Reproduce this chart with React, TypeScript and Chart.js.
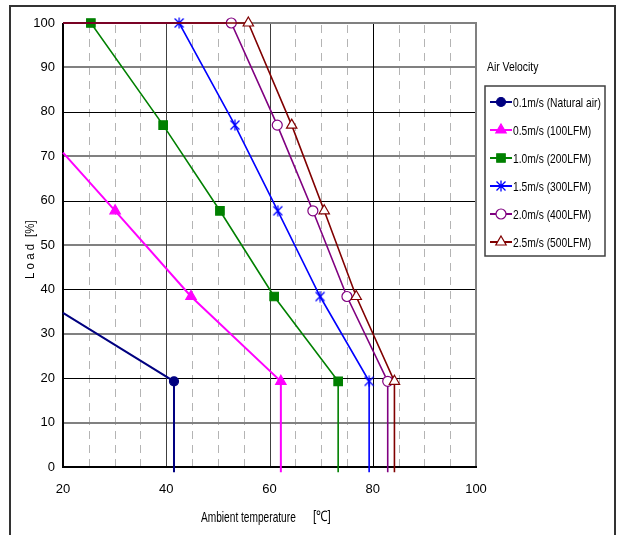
import React, { useEffect, useRef } from "react";
import { Chart, registerables } from "chart.js";
import { drawPoint } from "chart.js/helpers";

Chart.register(...registerables);

const FONT = "'Liberation Sans', Arial, sans-serif";

// Series values (x = ambient temperature °C, y = load %)
const loadY = [100, 100, 77, 57.7, 38.4, 19.3, -1.2];
const naturalX = [20, 41.5, 41.5];
const naturalY = [34.7, 19.3, -1.2];
const lfm100X = [20, 30.1, 44.8, 62.2, 62.2];
const lfm100Y = [70.8, 57.7, 38.4, 19.3, -1.2];
const lfm200X = [20, 25.4, 39.4, 50.4, 60.9, 73.3, 73.3];
const lfm300X = [20, 42.5, 53.3, 61.6, 69.8, 79.3, 79.3];
const lfm400X = [20, 52.6, 61.5, 68.4, 75.0, 82.9, 82.9];
const lfm500X = [20, 55.9, 64.3, 70.6, 76.8, 84.2, 84.2];

const seriesLabels = [
  "0.1m/s (Natural air)",
  "0.5m/s (100LFM)",
  "1.0m/s (200LFM)",
  "1.5m/s (300LFM)",
  "2.0m/s (400LFM)",
  "2.5m/s (500LFM)",
];
const seriesColors = ["#000080", "#FF00FF", "#008000", "#0000FF", "#800080", "#800000"];
const seriesFill = ["#000080", "#FF00FF", "#008000", "#0000FF", "#FFFFFF", "#FFFFFF"];
const seriesRadius = [4.5, 6, 6, 5, 5, 6];

const xTicks = [20, 40, 60, 80, 100];
const yTicks = [0, 10, 20, 30, 40, 50, 60, 70, 80, 90, 100];
const xMinor = [25, 30, 35, 45, 50, 55, 65, 70, 75, 85, 90, 95];

const legendTitle = "Air Velocity";
const xTitleMain = "Ambient temperature";
const xTitleUnit = "[℃]";
const yTitleMain = "L o a d";
const yTitleUnit = "[%]";

function zip(xs: number[], ys: number[]) {
  return xs.map((x, i) => ({ x, y: ys[i] }));
}

const seriesData = [
  zip(naturalX, naturalY),
  zip(lfm100X, lfm100Y),
  zip(lfm200X, loadY),
  zip(lfm300X, loadY),
  zip(lfm400X, loadY),
  zip(lfm500X, loadY),
];

function makeAsterisk(color: string) {
  const c = document.createElement("canvas");
  c.width = 12;
  c.height = 12;
  const g = c.getContext("2d")!;
  g.strokeStyle = color;
  g.lineWidth = 1.3;
  g.beginPath();
  g.moveTo(1.5, 1.5);
  g.lineTo(10.5, 10.5);
  g.moveTo(10.5, 1.5);
  g.lineTo(1.5, 10.5);
  g.moveTo(6, 0.5);
  g.lineTo(6, 11.5);
  g.stroke();
  return c;
}

function narrowText(ctx: any, text: string, x: number, y: number, size: number, sx: number, rot = 0) {
  ctx.save();
  ctx.translate(x, y);
  ctx.rotate(rot);
  ctx.scale(sx, 1);
  ctx.font = `${size}px ${FONT}`;
  ctx.fillStyle = "#000";
  ctx.textAlign = "left";
  ctx.textBaseline = "middle";
  ctx.fillText(text, 0, 0);
  ctx.restore();
}

export default function App() {
  const ref = useRef<HTMLCanvasElement>(null);
  useEffect(() => {
    document.body.style.margin = "0";
    const canvas = ref.current!;
    const asterisk = makeAsterisk("#0000FF");
    const seriesStyles: any[] = ["circle", "triangle", "rect", asterisk, "circle", "triangle"];

    const gridPlugin = {
      id: "customGrid",
      beforeDatasetsDraw(chart: any) {
        const { ctx, scales } = chart;
        const xs = scales.x;
        const ys = scales.y;
        const top = Math.round(ys.getPixelForValue(100));
        const bottom = Math.round(ys.getPixelForValue(0));
        const left = Math.round(xs.getPixelForValue(20));
        const right = Math.round(xs.getPixelForValue(100));
        ctx.save();
        ctx.setLineDash([8, 6]);
        ctx.strokeStyle = "#b4b4b4";
        ctx.lineWidth = 1;
        xMinor.forEach((v) => {
          const px = Math.round(xs.getPixelForValue(v)) + 0.5;
          ctx.beginPath();
          ctx.moveTo(px, top + 2);
          ctx.lineTo(px, bottom);
          ctx.stroke();
        });
        ctx.setLineDash([]);
        yTicks.forEach((v) => {
          if (v === 0 || v === 100) return;
          const py = Math.round(ys.getPixelForValue(v));
          ctx.beginPath();
          if (v % 20 === 0) {
            ctx.strokeStyle = "#000";
            ctx.lineWidth = 1;
            ctx.moveTo(left, py + 0.5);
            ctx.lineTo(right, py + 0.5);
          } else {
            ctx.strokeStyle = "#808080";
            ctx.lineWidth = 2;
            ctx.moveTo(left, py);
            ctx.lineTo(right, py);
          }
          ctx.stroke();
        });
        [40, 60, 80].forEach((v) => {
          const px = Math.round(xs.getPixelForValue(v)) + 0.5;
          ctx.strokeStyle = v === 80 ? "#000" : "#404040";
          ctx.lineWidth = 1;
          ctx.beginPath();
          ctx.moveTo(px, top);
          ctx.lineTo(px, bottom);
          ctx.stroke();
        });
        ctx.strokeStyle = "#808080";
        ctx.lineWidth = 2;
        ctx.beginPath();
        ctx.moveTo(left, top);
        ctx.lineTo(right, top);
        ctx.lineTo(right, bottom);
        ctx.stroke();
        ctx.strokeStyle = "#000";
        ctx.beginPath();
        ctx.moveTo(left, top);
        ctx.lineTo(left, bottom);
        ctx.lineTo(right + 1, bottom);
        ctx.stroke();
        ctx.restore();
      },
      afterDraw(chart: any) {
        const { ctx } = chart;
        ctx.save();
        ctx.strokeStyle = "#333";
        ctx.lineWidth = 2;
        ctx.strokeRect(10, 6, 605, 540);
        narrowText(ctx, xTitleMain, 201, 518, 14.5, 0.7);
        narrowText(ctx, xTitleUnit, 313, 517, 14.5, 0.8);
        narrowText(ctx, yTitleMain, 30, 279, 13.5, 0.85, -Math.PI / 2);
        narrowText(ctx, yTitleUnit, 30, 237, 13.5, 0.85, -Math.PI / 2);
        narrowText(ctx, legendTitle, 487, 67, 13, 0.8);
        ctx.strokeStyle = "#404040";
        ctx.lineWidth = 1.5;
        ctx.strokeRect(485, 86, 120, 170);
        seriesLabels.forEach((label, i) => {
          const y = 102 + i * 28;
          ctx.strokeStyle = seriesColors[i];
          ctx.lineWidth = 2;
          ctx.beginPath();
          ctx.moveTo(490, y);
          ctx.lineTo(512, y);
          ctx.stroke();
          ctx.fillStyle = seriesFill[i];
          ctx.strokeStyle = seriesColors[i];
          ctx.lineWidth = 1.2;
          drawPoint(ctx, { pointStyle: seriesStyles[i], radius: seriesRadius[i], rotation: 0, borderWidth: 1.2 }, 501, y);
          narrowText(ctx, label, 513, y + 1, 13.5, 0.76);
        });
        ctx.restore();
      },
    };

    const datasets = seriesData.map((data, i) => ({
      label: seriesLabels[i],
      data,
      borderColor: seriesColors[i],
      backgroundColor: seriesFill[i],
      pointBackgroundColor: seriesFill[i],
      pointBorderColor: seriesColors[i],
      pointStyle: seriesStyles[i],
      borderWidth: i < 2 ? 2 : 1.6,
      pointBorderWidth: 1.2,
      pointRadius: data.map((_, j) => (j === 0 || j === data.length - 1 ? 0 : seriesRadius[i])),
      pointHoverRadius: 0,
      tension: 0,
      clip: false as any,
      order: 5 - i,
    }));
    const chart = new Chart(canvas, {
      type: "line",
      data: { datasets },
      plugins: [gridPlugin],
      options: {
        animation: false,
        responsive: false,
        layout: { padding: { left: 0, right: 146, top: 23, bottom: 0 } },
        plugins: { legend: { display: false }, tooltip: { enabled: false } },
        scales: {
          x: {
            type: "linear",
            min: 20,
            max: 100,
            afterBuildTicks: (scale: any) => {
              scale.ticks = xTicks.map((v) => ({ value: v }));
            },
            afterFit: (scale: any) => {
              scale.height = 68;
            },
            grid: { display: false, drawTicks: false },
            border: { display: false },
            ticks: { padding: 15, color: "#000", font: { family: FONT, size: 13 }, maxRotation: 0 },
            title: { display: false },
          },
          y: {
            type: "linear",
            min: 0,
            max: 100,
            afterBuildTicks: (scale: any) => {
              scale.ticks = yTicks.map((v) => ({ value: v }));
            },
            afterFit: (scale: any) => {
              scale.width = 63;
            },
            grid: { display: false, drawTicks: false },
            border: { display: false },
            ticks: { padding: 8, color: "#000", font: { family: FONT, size: 13 } },
            title: { display: false },
          },
        },
      },
    } as any);
    return () => chart.destroy();
  }, []);
  return (
    <div style={{ width: 622, height: 535 }}>
      <canvas ref={ref} width={622} height={535} style={{ width: 622, height: 535, display: "block" }} />
    </div>
  );
}
